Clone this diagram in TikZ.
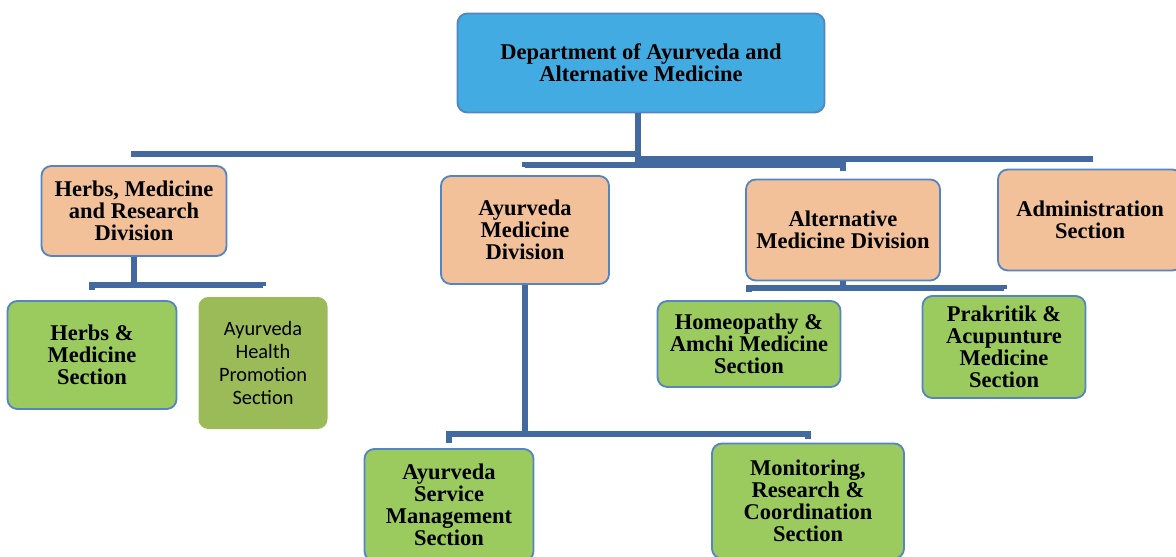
\documentclass[tikz,border=0pt]{standalone}
\usepackage{fontspec}
\setmainfont{Liberation Serif}
\newfontfamily\calibrifont{Carlito}
\usetikzlibrary{positioning}
\definecolor{deptblue}{RGB}{66,172,226}
\definecolor{peach}{RGB}{242,193,154}
\definecolor{leaf}{RGB}{155,203,94}
\definecolor{olive}{RGB}{155,187,89}
\definecolor{edgeblue}{RGB}{84,132,194}
\definecolor{linkblue}{RGB}{66,106,160}

\begin{document}
\begin{tikzpicture}[x=0.025cm,y=-0.025cm,
        sz/.style 2 args={minimum width=#1*0.025cm,minimum height=#2*0.025cm},
        link/.style={draw=linkblue,line width=3.6pt}]%
        \useasboundingbox (0,0) rectangle (1176,557);
        %\draw[step=50,color=gray,very thin] (0,0) grid (1176,557);%%
        \begin{scope}[shape=rectangle,inner sep=0pt]
        \tikzstyle{every node}=[draw=edgeblue,fill=deptblue,line width=1.3pt,rounded corners=7pt,align=center,font=\bfseries\fontsize{16}{15.6}\selectfont] %%
        \node[sz={367}{99}] (dept) at (641,63)  {Department of Ayurveda and\\Alternative Medicine}; %%
        \end{scope}%
        \begin{scope}[shape=rectangle,inner sep=0pt]
        \tikzstyle{every node}=[draw=edgeblue,fill=peach,line width=1.3pt,rounded corners=7pt,align=center,font=\bfseries\fontsize{16}{15.6}\selectfont] %%
        \node[sz={185}{90}] (herbdiv) at (134,211)  {Herbs, Medicine\\and Research\\Division}; %%
        \node[sz={168}{108}] (ayurdiv) at (525,230)  {Ayurveda\\Medicine\\Division}; %%
        \node[sz={194}{101}] (altdiv) at (843,230)  {Alternative\\Medicine Division}; %%
        \node[sz={184}{101}] (admin) at (1090,220)  {Administration\\Section}; %%
        \end{scope}
        \begin{scope}[shape=rectangle,inner sep=0pt]
        \tikzstyle{every node}=[draw=edgeblue,fill=leaf,line width=1.3pt,rounded corners=7pt,align=center,font=\bfseries\fontsize{16}{15.6}\selectfont] %%
        \node[sz={169}{108}] (herbsec) at (92,355)  {Herbs \&\\Medicine\\Section}; %%
        \node[draw=none,fill=olive,sz={129}{132},font=\calibrifont\fontsize{14.5}{16.4}\selectfont] (promo) at (263,363)  {Ayurveda\\Health\\Promotion\\Section}; %%
        \node[sz={183}{86}] (homeo) at (749,344)  {Homeopathy \&\\Amchi Medicine\\Section}; %%
        \node[sz={163}{102}] (prakr) at (1004,347)  {Prakritik \&\\Acupunture\\Medicine\\Section}; %%
        \node[sz={169}{112}] (servmgmt) at (449,505)  {Ayurveda\\Service\\Management\\Section}; %%
        \node[sz={192}{115}] (monit) at (808,501)  {Monitoring,\\Research \&\\Coordination\\Section}; %%
        \end{scope}
        \coordinate (hub) at (638,167); %%
        \coordinate (herbhub) at (herbdiv.south |- 0,285); %%
        \coordinate (ayurhub) at (ayurdiv.south |- 0,434); %%
        \coordinate (althub) at (altdiv.south |- 0,288); %%
        \draw[link] (dept.south -| hub)--(hub); %%
        \draw[link,shorten >=0.2cm] (hub |- 0,154)-|(herbdiv.north); %%
        \draw[link,shorten >=0.17cm] (hub |- 0,159)-|(admin.north); %%
        \draw[link,shorten >=0.2cm] (hub |- 0,165)-|(ayurdiv.north); %%
        \draw[link,shorten >=0.2cm] (hub |- 0,165)-|(altdiv.north); %%
        \draw[link] (herbdiv.south)--(herbhub); %%
        \draw[link,shorten >=0.25cm] (herbhub)-|(herbsec.north); %%
        \draw[link,shorten >=0.25cm] (herbhub)-|(promo.north); %%
        \draw[link] (ayurdiv.south)--(ayurhub); %%
        \draw[link,shorten >=0.12cm] (ayurhub)-|(servmgmt.north); %%
        \draw[link,shorten >=0.08cm] (ayurhub)-|(monit.north); %%
        \draw[link] (altdiv.south)--(althub); %%
        \draw[link,shorten >=0.2cm] (althub)-|(homeo.north); %%
        \draw[link,shorten >=0.15cm] (althub)-|(prakr.north); %%
        \end{tikzpicture}
\end{document}
